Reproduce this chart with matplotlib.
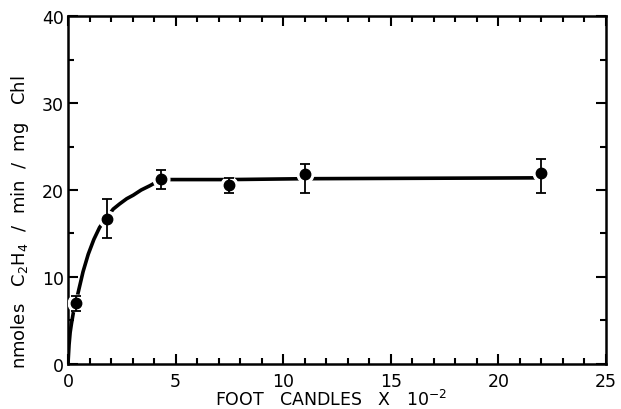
import numpy as np
import matplotlib
matplotlib.use("Agg")
import matplotlib.pyplot as plt
from matplotlib.ticker import MultipleLocator

# measured points (foot candles x 10^-2, nmoles C2H4 / min / mg Chl)
light = [0.38, 1.8, 4.3, 7.5, 11.0, 22.0]
rate = [7.0, 16.7, 21.3, 20.6, 21.8, 21.9]
err_lo = [0.9, 2.2, 1.2, 0.9, 2.1, 2.2]
err_hi = [0.8, 2.3, 1.0, 0.8, 1.2, 1.7]

# hand-drawn saturation curve
curve_x = [0.0, 0.05, 0.1, 0.16, 0.25, 0.38, 0.51, 0.7, 0.94, 1.2, 1.47, 1.8,
           2.1, 2.4, 2.73, 3.03, 3.4, 3.81, 4.1, 4.3, 7.5, 11.0, 22.0]
curve_y = [0.0, 2.2, 3.6, 4.6, 5.9, 7.2, 8.6, 10.6, 12.6, 14.3, 15.7, 16.8,
           17.8, 18.4, 19.0, 19.4, 20.0, 20.5, 20.9, 21.2, 21.2, 21.3, 21.4]

fig = plt.figure(figsize=(6.21, 4.10), dpi=100)
ax = fig.add_axes([0.1095, 0.1105, 0.8663, 0.8473])

ax.plot(curve_x, curve_y, color="black", lw=2.6, solid_capstyle="butt", zorder=2)
# white halo so the line stops short of each marker
ax.plot(light, rate, "o", ms=12, color="white", mec="white", zorder=3)
ax.errorbar(light, rate, yerr=[err_lo, err_hi], fmt="o", ms=7.5, color="black",
            ecolor="black", elinewidth=1.3, capsize=3.5, capthick=1.3, zorder=4)

ax.set_xlim(0, 25)
ax.set_ylim(0, 40)
ax.xaxis.set_major_locator(MultipleLocator(5))
ax.xaxis.set_minor_locator(MultipleLocator(1))
ax.yaxis.set_major_locator(MultipleLocator(10))
ax.yaxis.set_minor_locator(MultipleLocator(5))
ax.tick_params(which="both", direction="in", top=True, right=True, width=1.5,
               labelsize=12.5)
ax.tick_params(which="major", length=7.5)
ax.tick_params(which="minor", length=4.5)
ax.tick_params(axis="x", pad=6)
ax.tick_params(axis="y", pad=3)
for s in ax.spines.values():
    s.set_linewidth(1.8)

ax.set_xlabel("FOOT   CANDLES   X   10$^{-2}$", fontsize=12.5)
ax.xaxis.set_label_coords(0.49, -0.072)
ax.set_ylabel("nmoles   C$_2$H$_4$  /  min  /  mg   Chl", fontsize=13)
ax.yaxis.set_label_coords(-0.068, 0.41)

plt.savefig("out.png", dpi=100)
